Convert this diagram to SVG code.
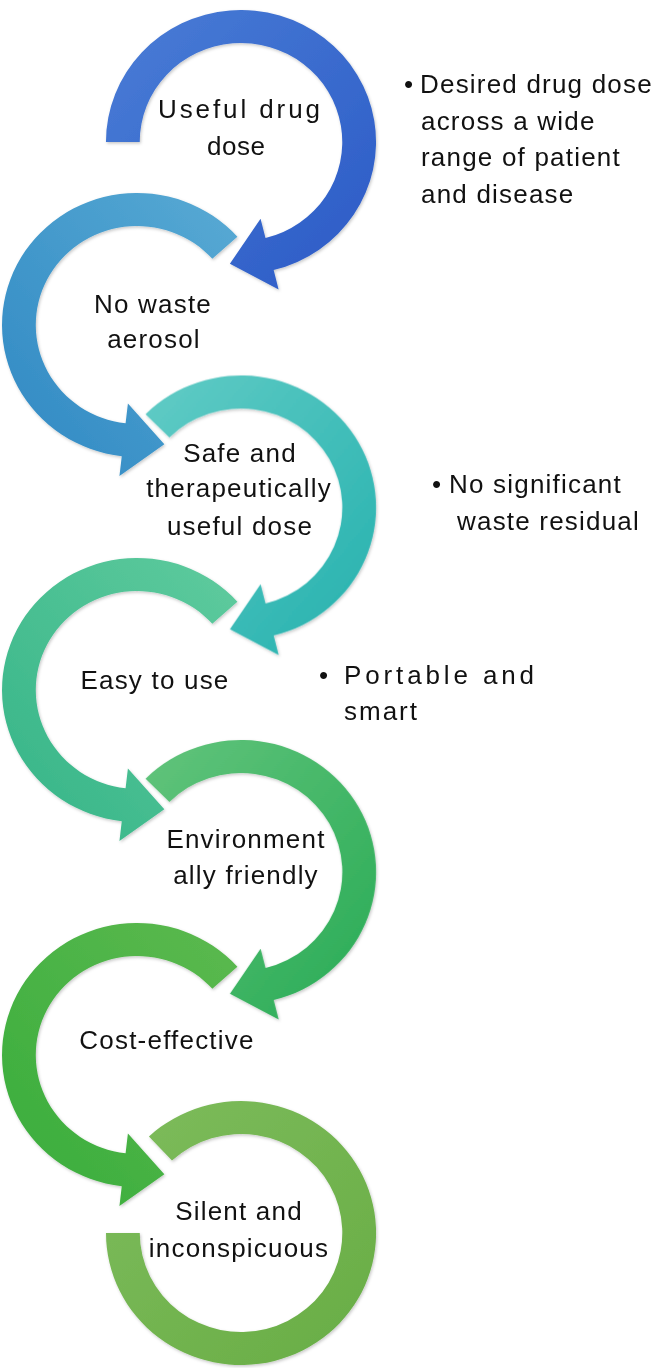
<svg xmlns="http://www.w3.org/2000/svg" width="657" height="1368" viewBox="0 0 657 1368">
<style>
.t{font-family:"Liberation Sans",Arial,Helvetica,sans-serif;font-size:26px;fill:#111;letter-spacing:1.2px}
.c{text-anchor:middle}
.w{font-family:"Liberation Sans",Arial,Helvetica,sans-serif;font-size:26px;fill:#111}
</style>
<defs>
<filter id="sh" x="-10%" y="-10%" width="120%" height="120%"><feDropShadow dx="1" dy="1.5" stdDeviation="1.5" flood-color="#000" flood-opacity="0.22"/></filter>
<linearGradient id="g1" x1="0" y1="0" x2="1" y2="1"><stop offset="0" stop-color="#4a7dd6"/><stop offset="1" stop-color="#2b5ac6"/></linearGradient>
<linearGradient id="g2" x1="1" y1="0" x2="0" y2="1"><stop offset="0" stop-color="#58aad4"/><stop offset="1" stop-color="#2f88c3"/></linearGradient>
<linearGradient id="g3" x1="0" y1="0" x2="1" y2="1"><stop offset="0" stop-color="#62ccc6"/><stop offset="1" stop-color="#24b1ae"/></linearGradient>
<linearGradient id="g4" x1="1" y1="0" x2="0" y2="1"><stop offset="0" stop-color="#5fcb9e"/><stop offset="1" stop-color="#35b487"/></linearGradient>
<linearGradient id="g5" x1="0" y1="0" x2="1" y2="1"><stop offset="0" stop-color="#62c47c"/><stop offset="1" stop-color="#28ab55"/></linearGradient>
<linearGradient id="g6" x1="1" y1="0" x2="0" y2="1"><stop offset="0" stop-color="#5cb94f"/><stop offset="1" stop-color="#38ad3c"/></linearGradient>
<linearGradient id="g7" x1="0" y1="0" x2="1" y2="1"><stop offset="0" stop-color="#7ebc5c"/><stop offset="1" stop-color="#68ad45"/></linearGradient>
<path id="rh" d="M -132 0 A 132 132 0 1 1 31.93 128.08 L 36.77 147.49 L -10.87 121.75 L 19.11 76.65 L 23.95 96.06 A 99 99 0 1 0 -99 0 Z"/>
<path id="rd" d="M -93.34 -93.34 A 132 132 0 1 1 31.93 128.08 L 36.77 147.49 L -10.87 121.75 L 19.11 76.65 L 23.95 96.06 A 99 99 0 1 0 -70 -70 Z"/>
<path id="ld" d="M 98.09 -88.32 A 132 132 0 1 0 -14.94 131.16 L -17.21 151.03 L 26.67 119.29 L -8.94 78.49 L -11.21 98.37 A 99 99 0 1 1 73.57 -66.24 Z"/>
</defs>
<rect width="657" height="1368" fill="#fff"/>
<g id="connectors" filter="url(#sh)">
<use href="#rh" fill="url(#g1)" transform="translate(241,142) scale(1.023,1)"/>
<use href="#ld" fill="url(#g2)" transform="translate(137,325) scale(1.023,1)"/>
<use href="#rd" fill="url(#g3)" transform="translate(241,507.5) scale(1.023,1)"/>
<use href="#ld" fill="url(#g4)" transform="translate(137,690) scale(1.023,1)"/>
<use href="#rd" fill="url(#g5)" transform="translate(241,872) scale(1.023,1)"/>
<use href="#ld" fill="url(#g6)" transform="translate(137,1055) scale(1.023,1)"/>
<path fill="url(#g7)" transform="translate(241,1233) scale(1.023,1)" d="M -90.02 -96.54 A 132 132 0 1 1 -132 0 L -99 0 A 99 99 0 1 0 -67.52 -72.41 Z"/>
</g>
<g id="n1">
<text class="w c" x="239" y="118" textLength="162" lengthAdjust="spacing">Useful drug</text>
<text class="w c" x="236" y="155" textLength="58" lengthAdjust="spacing">dose</text>
</g>
<g id="n2">
<text class="t c" x="153" y="313">No waste</text>
<text class="t c" x="154" y="348">aerosol</text>
</g>
<g id="n3">
<text class="t c" x="240" y="462">Safe and</text>
<text class="t c" x="239" y="497">therapeutically</text>
<text class="t c" x="240" y="535">useful dose</text>
</g>
<g id="n4">
<text class="t c" x="155" y="689">Easy to use</text>
</g>
<g id="n5">
<text class="t c" x="246" y="848">Environment</text>
<text class="t c" x="246" y="884">ally friendly</text>
</g>
<g id="n6">
<text class="t c" x="167" y="1049">Cost-effective</text>
</g>
<g id="n7">
<text class="t c" x="239" y="1220">Silent and</text>
<text class="t c" x="239" y="1257">inconspicuous</text>
</g>
<g id="noteA">
<text class="w" x="404" y="93">•</text>
<text class="t" x="420" y="93">Desired drug dose</text>
<text class="t" x="421" y="129.5">across a wide</text>
<text class="t" x="421" y="166">range of patient</text>
<text class="t" x="421" y="202.5">and disease</text>
</g>
<g id="noteB">
<text class="w" x="432" y="493">•</text>
<text class="t" x="449" y="493">No significant</text>
<text class="t" x="457" y="530">waste residual</text>
</g>
<g id="noteC">
<text class="w" x="319" y="684">•</text>
<text class="w" x="344" y="684" textLength="190" lengthAdjust="spacing">Portable and</text>
<text class="w" x="344" y="720" textLength="73" lengthAdjust="spacing">smart</text>
</g>
</svg>
